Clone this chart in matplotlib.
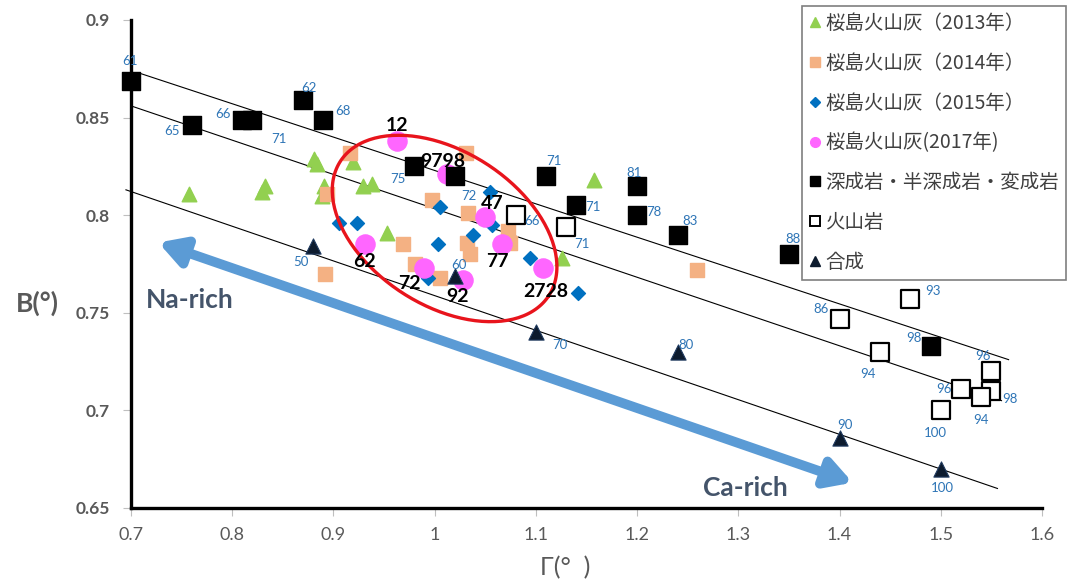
import numpy as np
import matplotlib
matplotlib.use("Agg")
import matplotlib.pyplot as plt
from matplotlib.lines import Line2D

plt.rcParams['font.family'] = ['Lato', 'Noto Sans CJK JP', 'DejaVu Sans']

# --- data ---
ash2013_x = [0.757, 0.829, 0.832, 0.881, 0.884, 0.891, 0.889, 0.919, 0.929, 0.938, 0.953, 1.126, 1.157]
ash2013_y = [0.811, 0.812, 0.815, 0.829, 0.826, 0.815, 0.810, 0.827, 0.815, 0.816, 0.791, 0.778, 0.818]

ash2014_x = [0.916, 0.894, 0.892, 0.997, 0.969, 0.981, 1.005, 1.031, 1.033, 1.032, 1.035, 1.072, 1.074, 1.259]
ash2014_y = [0.832, 0.811, 0.770, 0.808, 0.785, 0.775, 0.768, 0.832, 0.801, 0.786, 0.780, 0.792, 0.786, 0.772]

ash2015_x = [0.905, 0.923, 1.005, 1.055, 1.038, 1.003, 1.057, 0.993, 1.094, 1.142]
ash2015_y = [0.796, 0.796, 0.804, 0.812, 0.790, 0.785, 0.795, 0.768, 0.778, 0.760]

ash2017_x = [0.963, 1.012, 1.050, 0.931, 0.989, 1.028, 1.067, 1.107]
ash2017_y = [0.838, 0.821, 0.799, 0.785, 0.773, 0.767, 0.785, 0.773]
ash2017_lab = ["12", "9798", "47", "62", "72", "92", "77", "2728"]

plut_x = [0.70, 0.76, 0.81, 0.82, 0.87, 0.89, 0.98, 1.02, 1.11, 1.14, 1.20, 1.20, 1.24, 1.35, 1.49]
plut_y = [0.869, 0.846, 0.849, 0.849, 0.859, 0.849, 0.825, 0.820, 0.820, 0.805, 0.815, 0.800, 0.790, 0.780, 0.733]
plut_lab = ["61", "65", "66", "71", "62", "68", "75", "72", "71", "71", "81", "78", "83", "88", "98"]

volc_x = [1.08, 1.13, 1.40, 1.47, 1.44, 1.52, 1.55, 1.55, 1.54, 1.50]
volc_y = [0.800, 0.794, 0.747, 0.757, 0.730, 0.711, 0.720, 0.710, 0.707, 0.700]
volc_lab = ["66", "71", "86", "93", "94", "96", "96", "98", "94", "100"]

syn_x = [0.88, 1.02, 1.10, 1.24, 1.40, 1.50]
syn_y = [0.784, 0.769, 0.740, 0.730, 0.686, 0.670]
syn_lab = ["50", "60", "70", "80", "90", "100"]

trend_x = [[0.707, 1.567], [0.700, 1.560], [0.695, 1.556]]
trend_y = [[0.873, 0.726], [0.856, 0.705], [0.813, 0.660]]

xticks = [0.7, 0.8, 0.9, 1.0, 1.1, 1.2, 1.3, 1.4, 1.5, 1.6]
xtick_labels = ["0.7", "0.8", "0.9", "1", "1.1", "1.2", "1.3", "1.4", "1.5", "1.6"]
yticks = [0.65, 0.7, 0.75, 0.8, 0.85, 0.9]
ytick_labels = ["0.65", "0.7", "0.75", "0.8", "0.85", "0.9"]

# label offsets (points)
plut_off = [(-1, 14), (-14, -4), (-14, 4), (19, -14), (4, 9), (14, 6), (-12, -9), (10, -14),
            (6, 11), (12, -1), (-2, 9), (12, 2), (9, 10), (3, 11), (-12, 6)]
volc_off = [(12, -4), (11, -12), (-13, 7), (16, 6), (-9, -16), (-12, 0), (-6, 11), (13, -6), (0, -17), (-4, -16)]
syn_off = [(-9, -11), (3, 8), (17, -9), (6, 5), (4, 9), (1, -14)]
ash_off = [(0, 11), (-3, 9), (5, 10), (0, -12), (-10, -11), (-4, -12), (-4, -12), (2, -17)]

W, H = 1067, 584
fig = plt.figure(figsize=(W / 100, H / 100), dpi=100)
ax = fig.add_axes([131 / W, 1 - 508 / H, (1042 - 131) / W, (508 - 20) / H])
ax.set_xlim(0.7, 1.6)
ax.set_ylim(0.65, 0.9)

for lx, ly in zip(trend_x, trend_y):
    ax.plot(lx, ly, color='black', lw=0.8, clip_on=False, zorder=2)

# ellipse (drawn in pixel space, converted to data units)
sx = 0.9 / (1042 - 131)
sy = 0.25 / (508 - 20)
cx, cy = 1.0098, 0.7932
a, b, th = 124, 77, np.radians(32.7)
t = np.linspace(0, 2 * np.pi, 200)
ex = a * np.cos(t) * np.cos(th) - b * np.sin(t) * np.sin(th)
ey = a * np.cos(t) * np.sin(th) + b * np.sin(t) * np.cos(th)
ax.plot(cx + ex * sx, cy - ey * sy, color='#E8141C', lw=2.4, zorder=6)

# arrow
ax.annotate('', xy=(0.727, 0.786), xytext=(1.413, 0.663),
            arrowprops=dict(arrowstyle='<|-|>,head_length=1.5,head_width=0.85',
                            lw=7, color='#5B9BD5', shrinkA=0, shrinkB=0), zorder=1)
ax.text(0.758, 0.7566, 'Na-rich', color='#44546A', fontsize=19, fontweight='bold',
        ha='center', va='center')
ax.text(1.307, 0.660, 'Ca-rich', color='#44546A', fontsize=19, fontweight='bold',
        ha='center', va='center')

ax.scatter(ash2013_x, ash2013_y, marker='^', s=110, color='#92D050', zorder=3)
ax.scatter(ash2014_x, ash2014_y, marker='s', s=100, color='#F4B183', zorder=3)
ax.scatter(ash2015_x, ash2015_y, marker='D', s=50, color='#0070C0', zorder=4)
ax.scatter(ash2017_x, ash2017_y, marker='o', s=190, color='#FF66FF', zorder=4)
ax.scatter(plut_x, plut_y, marker='s', s=170, color='black', zorder=5, clip_on=False)
ax.scatter(volc_x, volc_y, marker='s', s=150, facecolor='white', edgecolor='black', lw=1.6, zorder=5)
ax.scatter(syn_x, syn_y, marker='^', s=120, color='#0D1B2E', edgecolor='#1F3A5F', lw=0.8, zorder=5)

blue = '#2E75B6'
for xs, ys, labs, offs in [(plut_x, plut_y, plut_lab, plut_off),
                           (volc_x, volc_y, volc_lab, volc_off),
                           (syn_x, syn_y, syn_lab, syn_off)]:
    for x, y, s, o in zip(xs, ys, labs, offs):
        ax.annotate(s, (x, y), xytext=o, textcoords='offset points', ha='center', va='center',
                    color=blue, fontsize=9.5, zorder=7, annotation_clip=False)

for x, y, s, o in zip(ash2017_x, ash2017_y, ash2017_lab, ash_off):
    ax.annotate(s, (x, y), xytext=o, textcoords='offset points', ha='center', va='center',
                color='black', fontsize=14, fontweight='bold', zorder=8)

for side in ['top', 'right']:
    ax.spines[side].set_visible(False)
for side in ['left', 'bottom']:
    ax.spines[side].set_linewidth(2.4)
    ax.spines[side].set_color('black')

ax.set_xticks(xticks)
ax.set_xticklabels(xtick_labels, color='#595959', fontsize=13,
                   family=['Liberation Sans Narrow', 'Lato'])
ax.set_yticks(yticks)
ax.set_yticklabels(ytick_labels, color='#595959', fontsize=12.5, fontweight='bold')
ax.tick_params(axis='both', direction='out', length=6, width=0.8, color='#BFBFBF')
ax.tick_params(axis='x', pad=8)
ax.tick_params(axis='y', pad=9)

fig.text(37 / W, 1 - 303 / H, 'B(°)', color='#595959', fontsize=19, fontweight='bold',
         ha='center', va='center')
fig.text(565 / W, 1 - 568 / H, 'Γ(°  )', color='#595959', fontsize=18,
         ha='center', va='center', family=['Liberation Sans Narrow', 'Lato'])

handles = [
    Line2D([], [], ls='', marker='^', ms=7, color='#92D050'),
    Line2D([], [], ls='', marker='s', ms=7, color='#F4B183'),
    Line2D([], [], ls='', marker='D', ms=5.5, color='#0070C0'),
    Line2D([], [], ls='', marker='o', ms=7, color='#FF66FF'),
    Line2D([], [], ls='', marker='s', ms=7, color='black'),
    Line2D([], [], ls='', marker='s', ms=7, mfc='white', mec='black', mew=1.4),
    Line2D([], [], ls='', marker='^', ms=7, color='#0D1B2E'),
]
labels = ['桜島火山灰（2013年）', '桜島火山灰（2014年）', '桜島火山灰（2015年）', '桜島火山灰(2017年)',
          '深成岩・半深成岩・変成岩', '火山岩', '合成']
leg = fig.legend(handles, labels, loc='upper right', bbox_to_anchor=(1066 / W, 1 - 6 / H),
                 borderaxespad=0,
                 prop={'family': ['Noto Sans CJK JP', 'DejaVu Sans'], 'size': 14},
                 labelcolor='#404040', handlelength=0.6, handletextpad=0.25,
                 labelspacing=0.97, borderpad=0.35, fancybox=False, framealpha=1)
leg.get_frame().set_edgecolor('#7F7F7F')
leg.get_frame().set_linewidth(1.2)

fig.savefig('out.png', dpi=100)
